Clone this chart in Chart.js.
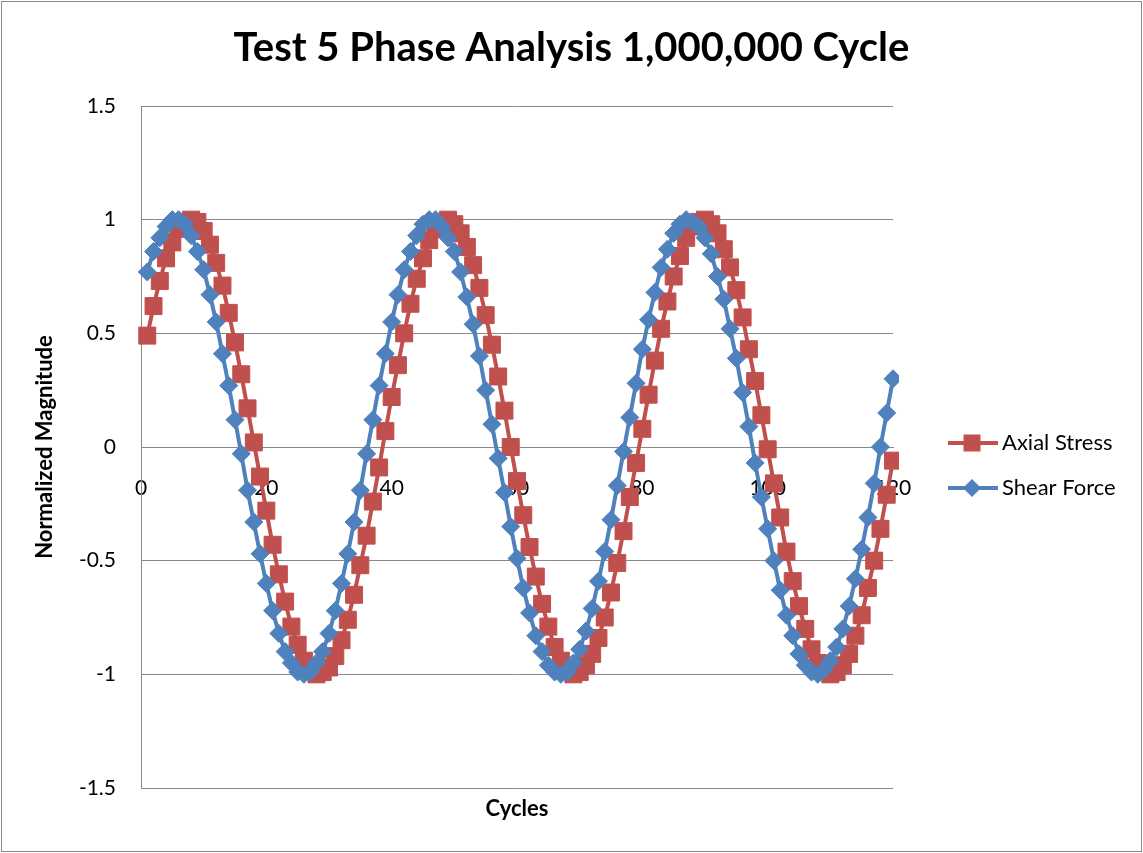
<!DOCTYPE html>
<html>
<head>
<meta charset="utf-8">
<script src="https://cdn.jsdelivr.net/npm/chart.js@4.4.0/dist/chart.umd.min.js"></script>
<style>
    html, body { margin: 0; padding: 0; background: #fff; }
    #wrap { width: 1143px; height: 853px; position: relative; }
</style>
</head>
<body>
<div id="wrap"><canvas id="chart"></canvas></div>
<script>
// Cycle numbers (x values)
const cycles = [
    1, 2, 3, 4, 5, 6, 7, 8, 9, 10, 11, 12, 13, 14, 15, 16, 17, 18, 19, 20,
    21, 22, 23, 24, 25, 26, 27, 28, 29, 30, 31, 32, 33, 34, 35, 36, 37, 38, 39, 40,
    41, 42, 43, 44, 45, 46, 47, 48, 49, 50, 51, 52, 53, 54, 55, 56, 57, 58, 59, 60,
    61, 62, 63, 64, 65, 66, 67, 68, 69, 70, 71, 72, 73, 74, 75, 76, 77, 78, 79, 80,
    81, 82, 83, 84, 85, 86, 87, 88, 89, 90, 91, 92, 93, 94, 95, 96, 97, 98, 99, 100,
    101, 102, 103, 104, 105, 106, 107, 108, 109, 110, 111, 112, 113, 114, 115, 116, 117, 118, 119, 120,
    121
];

const axialStress = [
    0.49, 0.62, 0.73, 0.83, 0.90, 0.96, 0.99, 1.00, 0.99, 0.95,
    0.89, 0.81, 0.71, 0.59, 0.46, 0.32, 0.17, 0.02, -0.13, -0.28,
    -0.43, -0.56, -0.68, -0.79, -0.87, -0.94, -0.98, -1.00, -0.99, -0.97,
    -0.92, -0.85, -0.76, -0.65, -0.52, -0.39, -0.24, -0.09, 0.07, 0.22,
    0.36, 0.50, 0.63, 0.74, 0.83, 0.91, 0.96, 0.99, 1.00, 0.98,
    0.94, 0.88, 0.80, 0.70, 0.58, 0.45, 0.31, 0.16, 0.00, -0.15,
    -0.30, -0.44, -0.57, -0.69, -0.79, -0.88, -0.94, -0.98, -1.00, -0.99,
    -0.96, -0.91, -0.84, -0.75, -0.64, -0.51, -0.37, -0.22, -0.07, 0.08,
    0.23, 0.38, 0.52, 0.64, 0.75, 0.84, 0.92, 0.97, 0.99, 1.00,
    0.98, 0.94, 0.87, 0.79, 0.69, 0.57, 0.43, 0.29, 0.14, -0.01,
    -0.16, -0.31, -0.46, -0.59, -0.70, -0.80, -0.89, -0.95, -0.98, -1.00,
    -0.99, -0.96, -0.91, -0.83, -0.74, -0.62, -0.50, -0.36, -0.21, -0.06,
    0.10
];

const shearForce = [
    0.77, 0.86, 0.92, 0.97, 1.00, 1.00, 0.98, 0.93, 0.86, 0.78,
    0.67, 0.55, 0.41, 0.27, 0.12, -0.03, -0.19, -0.33, -0.47, -0.60,
    -0.72, -0.82, -0.90, -0.95, -0.99, -1.00, -0.99, -0.95, -0.90, -0.82,
    -0.72, -0.60, -0.47, -0.33, -0.19, -0.03, 0.12, 0.27, 0.41, 0.55,
    0.67, 0.78, 0.86, 0.93, 0.98, 1.00, 1.00, 0.97, 0.92, 0.86,
    0.77, 0.66, 0.54, 0.40, 0.25, 0.10, -0.05, -0.20, -0.35, -0.49,
    -0.62, -0.73, -0.83, -0.90, -0.96, -0.99, -1.00, -0.99, -0.95, -0.89,
    -0.81, -0.71, -0.59, -0.46, -0.32, -0.17, -0.02, 0.13, 0.28, 0.43,
    0.56, 0.68, 0.79, 0.87, 0.94, 0.98, 1.00, 0.99, 0.97, 0.92,
    0.85, 0.75, 0.65, 0.52, 0.39, 0.24, 0.09, -0.07, -0.22, -0.36,
    -0.50, -0.63, -0.74, -0.83, -0.91, -0.96, -0.99, -1.00, -0.98, -0.94,
    -0.88, -0.80, -0.70, -0.58, -0.45, -0.31, -0.16, 0.00, 0.15, 0.30,
    0.44
];

const seriesNames = ['Axial Stress', 'Shear Force'];
const xTicks = [0, 20, 40, 60, 80, 100, 120];
const yTicks = [-1.5, -1, -0.5, 0, 0.5, 1, 1.5];

const RED = '#C0504D';
const BLUE = '#4F81BD';
const GRID = '#898989';

Chart.defaults.font.family = 'Lato, "Open Sans", sans-serif';
Chart.defaults.color = '#000';

function toPoints(ys) {
    return cycles.map((x, i) => ({ x: x, y: ys[i] }));
}

// legend swatch: a short line with the marker on it
function legendIcon(color, diamond) {
    const c = document.createElement('canvas');
    c.width = 89;
    c.height = 22;
    const ctx = c.getContext('2d');
    ctx.strokeStyle = color;
    ctx.lineWidth = 4;
    ctx.beginPath();
    ctx.moveTo(39, 11);
    ctx.lineTo(89, 11);
    ctx.stroke();
    ctx.fillStyle = color;
    ctx.beginPath();
    if (diamond) {
        ctx.moveTo(63, 2); ctx.lineTo(72, 11); ctx.lineTo(63, 20); ctx.lineTo(54, 11);
    } else {
        ctx.rect(54.5, 2.5, 17, 17);
    }
    ctx.closePath();
    ctx.fill();
    return c;
}
const legendIcons = [legendIcon(RED, false), legendIcon(BLUE, true)];

// side padding so the plot ends where the reference does and the title stays centred
const PLOT_LEFT = 141;
const PLOT_RIGHT = 893;
const LEGEND_PAD = 23;
const LEGEND_BOX = 75;
const LEGEND_FONT = 22;
const measure = document.createElement('canvas').getContext('2d');
measure.font = `${LEGEND_FONT}px Lato`;
const legendTextW = Math.max(...seriesNames.map(n => measure.measureText(n).width));
const legendW = LEGEND_PAD + LEGEND_BOX + LEGEND_FONT / 2 + legendTextW + 10;
const sidePad = 1143 - PLOT_RIGHT - legendW;

const frame = {
    id: 'frame',
    beforeDraw(chart) {
        const ctx = chart.ctx;
        ctx.save();
        ctx.fillStyle = '#fff';
        ctx.fillRect(0, 0, chart.width, chart.height);
        ctx.restore();
    },
    afterDraw(chart) {
        const ctx = chart.ctx;
        ctx.save();
        ctx.strokeStyle = '#8a8a8a';
        ctx.lineWidth = 1;
        ctx.strokeRect(1.5, 1.5, chart.width - 3, chart.height - 3);
        ctx.restore();
    }
};

new Chart(document.getElementById('chart'), {
    type: 'line',
    data: {
        datasets: [
            {
                label: seriesNames[0],
                data: toPoints(axialStress),
                borderColor: RED,
                backgroundColor: RED,
                borderWidth: 4,
                pointStyle: 'rect',
                pointRadius: 12,
                pointBorderWidth: 1,
                pointBorderColor: RED,
                pointBackgroundColor: RED,
                tension: 0,
                order: 1,
                clip: { left: 20, top: 20, right: 6, bottom: 20 }
            },
            {
                label: seriesNames[1],
                data: toPoints(shearForce),
                borderColor: BLUE,
                backgroundColor: BLUE,
                borderWidth: 4,
                pointStyle: 'rectRot',
                pointRadius: 9,
                pointBorderWidth: 1,
                pointBorderColor: BLUE,
                pointBackgroundColor: BLUE,
                tension: 0,
                order: 0,
                clip: { left: 20, top: 20, right: 6, bottom: 20 }
            }
        ]
    },
    options: {
        responsive: true,
        maintainAspectRatio: false,
        animation: false,
        events: [],
        layout: {
            padding: { left: sidePad, top: 0, right: sidePad, bottom: 65 }
        },
        scales: {
            x: {
                type: 'linear',
                position: { y: 0 },
                min: 0,
                max: 120,
                afterBuildTicks: scale => { scale.ticks = xTicks.map(v => ({ value: v })); },
                afterFit: scale => { scale.height = 375; },
                grid: { display: false, drawTicks: false },
                border: { display: true, color: GRID, width: 1 },
                ticks: {
                    padding: 29,
                    font: { size: 21 },
                    color: '#000',
                    maxRotation: 0,
                    callback: v => String(v)
                },
                title: {
                    display: true,
                    text: 'Cycles',
                    font: { size: 22, weight: 'bold' },
                    padding: { top: 0, bottom: 0 }
                }
            },
            y: {
                type: 'linear',
                min: -1.5,
                max: 1.5,
                afterBuildTicks: scale => { scale.ticks = yTicks.map(v => ({ value: v })); },
                afterFit: scale => { scale.width = PLOT_LEFT - sidePad; },
                grid: { color: GRID, lineWidth: 1, drawTicks: false },
                border: { display: true, color: GRID, width: 1 },
                ticks: {
                    padding: 25,
                    font: { size: 21 },
                    color: '#000',
                    callback: v => String(v)
                },
                title: {
                    display: true,
                    text: 'Normalized Magnitude',
                    font: { size: 22, weight: 'bold' },
                    padding: { top: Math.max(0, 45 - 13.2 - sidePad), bottom: 0 }
                }
            }
        },
        plugins: {
            title: {
                display: true,
                text: 'Test 5 Phase Analysis 1,000,000 Cycle',
                font: { size: 40, weight: 'bold' },
                color: '#000',
                padding: { top: 24, bottom: 34 }
            },
            legend: {
                display: true,
                position: 'right',
                fullSize: false,
                title: {
                    display: true,
                    text: ' ',
                    color: 'rgba(0,0,0,0)',
                    font: { size: 12 },
                    padding: { top: 11, bottom: 11.6 }
                },
                labels: {
                    usePointStyle: true,
                    pointStyleWidth: LEGEND_BOX,
                    padding: LEGEND_PAD,
                    font: { size: LEGEND_FONT },
                    color: '#000',
                    sort: (a, b) => a.datasetIndex - b.datasetIndex,
                    generateLabels(chart) {
                        const items = Chart.defaults.plugins.legend.labels.generateLabels(chart);
                        items.forEach(item => { item.pointStyle = legendIcons[item.datasetIndex]; });
                        return items;
                    }
                }
            },
            tooltip: { enabled: false }
        }
    },
    plugins: [frame]
});
</script>
</body>
</html>
